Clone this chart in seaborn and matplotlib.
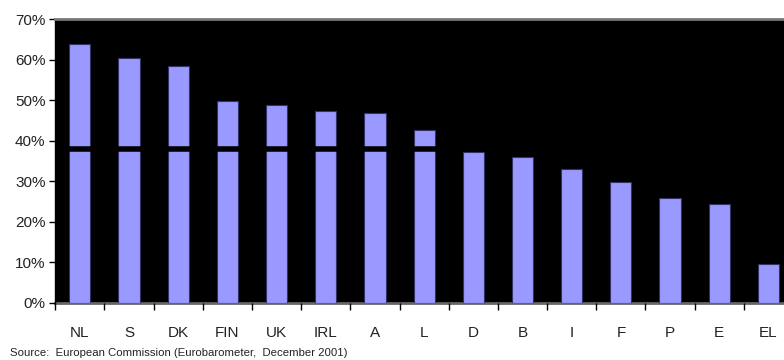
import matplotlib
matplotlib.use("Agg")
import matplotlib.pyplot as plt
import seaborn as sns
import pandas as pd
import numpy as np
from matplotlib.ticker import FuncFormatter, FixedLocator

countries = ["NL", "S", "DK", "FIN", "UK", "IRL", "A", "L", "D", "B", "I", "F", "P", "E", "EL"]
values = [63.8, 60.4, 58.4, 49.9, 48.9, 47.3, 46.9, 42.6, 37.2, 36.0, 33.0, 29.7, 25.8, 24.4, 9.6]
avg_line = 38.0
yticks = [0, 10, 20, 30, 40, 50, 60, 70]
source = "Source:  European Commission (Eurobarometer,  December 2001)"

sns.set_style("white")
plt.rcParams["font.family"] = ["Liberation Sans", "DejaVu Sans"]

fig = plt.figure(figsize=(7.84, 3.6), dpi=100)
ax = fig.add_axes([0.0705, 0.159, 0.941, 0.788])
ax.set_facecolor("black")

df = pd.DataFrame({"country": countries, "value": values})
sns.barplot(data=df, x="country", y="value", color="#9999FF", saturation=1,
            width=0.43, edgecolor="#333366", linewidth=0.8, ax=ax)

ax.axhline(avg_line, color="black", lw=4, zorder=3)

ax.set_ylim(0, 70)
ax.set_xlim(-0.5, len(countries) - 0.5)
ax.set_yticks(yticks)
ax.yaxis.set_major_formatter(FuncFormatter(lambda v, p: f"{int(v)}%"))
ax.set_xlabel("")
ax.set_ylabel("")

ax.tick_params(axis="y", which="major", left=True, direction="out", length=4,
               width=1, color="black", labelsize=11, pad=3, labelcolor="#222222")
ax.tick_params(axis="x", which="major", bottom=False, labelsize=11, pad=13, labelcolor="#222222")
ax.xaxis.set_minor_locator(FixedLocator(np.arange(-0.5, len(countries), 1.0)))
ax.tick_params(axis="x", which="minor", bottom=True, direction="out", length=5,
               width=1, color="black")

for side in ["left", "bottom", "top", "right"]:
    ax.spines[side].set_visible(True)
ax.spines["left"].set_color("black")
ax.spines["left"].set_linewidth(1)
ax.spines["bottom"].set_color("#666666")
ax.spines["bottom"].set_linewidth(2)
ax.spines["bottom"].set_zorder(0.5)
ax.spines["top"].set_color("#777777")
ax.spines["top"].set_linewidth(2)
ax.spines["right"].set_visible(False)

fig.text(0.013, 0.005, source, fontsize=8.2, color="#222222", ha="left", va="bottom")

fig.savefig("out.png", dpi=100)
